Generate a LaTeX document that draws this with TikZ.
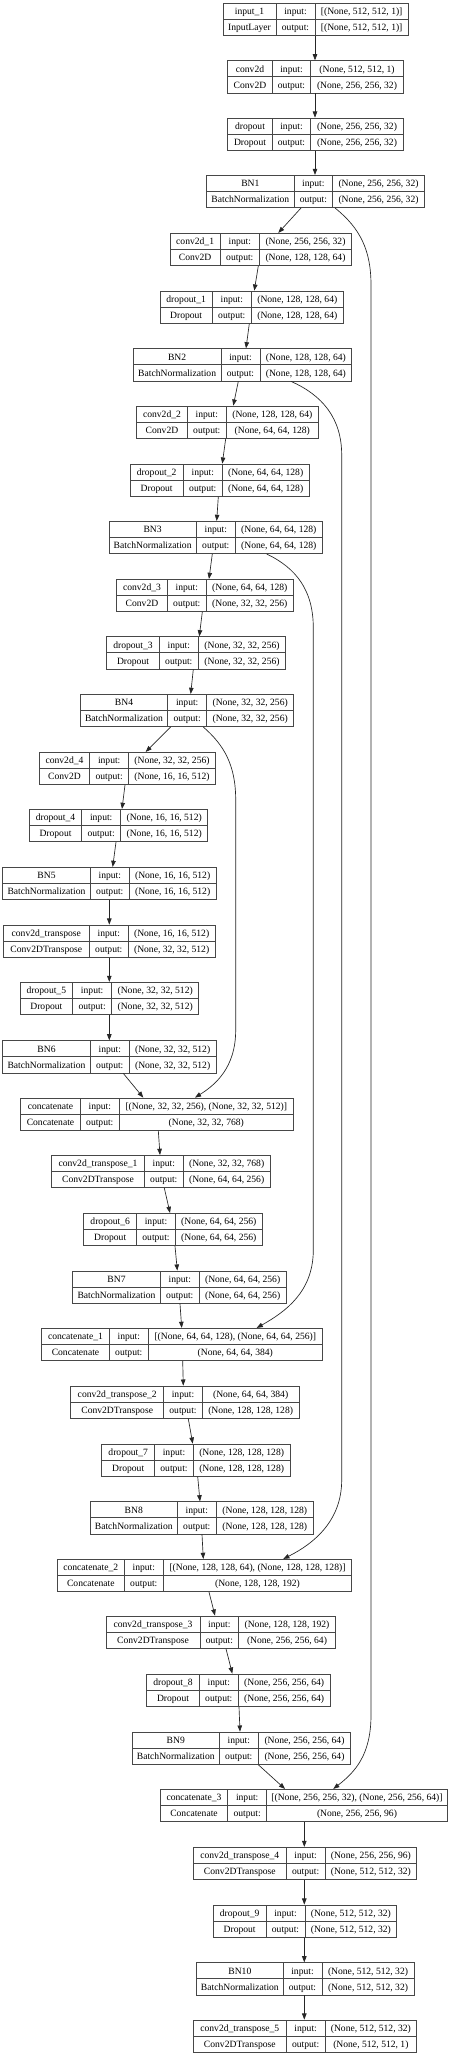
\documentclass[tikz,border=0pt]{standalone}
\usepackage{fontspec}
\setmainfont{Liberation Serif}
\usetikzlibrary{arrows.meta,fit,calc}
\tikzset{
  box/.style={draw=black!72, line width=0.6pt, inner sep=0pt, fill=white},
  cell/.style={draw=black!72, line width=0.6pt},
  txt/.style={inner sep=0pt, anchor=base, font=\fontsize{7.2}{8}\selectfont},
  edge/.style={draw=black!85, line width=0.5pt, -{Triangle[length=4.6pt,width=3.4pt]}},
}
\newcommand\lay[9]{\def\Lname{#1}\def\Lxo{#2}\def\Lxa{#3}\def\Lxb{#4}\def\Lxi{#5}\def\Lyo{#6}\def\Lta{#7}\def\Ltb{#8}\def\Lin{#9}\layfinish}
\newcommand\layfinish[1]{%
  \pgfmathsetmacro\Lyi{\Lyo+32.3}%
  \pgfmathsetmacro\Lym{\Lyo+16.15}%
  \pgfmathsetmacro\Lca{(\Lxo+\Lxa)/2}%
  \pgfmathsetmacro\Lcb{(\Lxa+\Lxb)/2}%
  \pgfmathsetmacro\Lcc{(\Lxb+\Lxi)/2}%
  \pgfmathsetmacro\Lba{\Lyo+11.3}%
  \pgfmathsetmacro\Lbb{\Lyo+27.4}%
  \node[box, fit={(\Lxo,\Lyo)(\Lxi,\Lyi)}] (\Lname) {};
  \draw[cell] (\Lxo,\Lym) -- (\Lxi,\Lym);
  \draw[cell] (\Lxa,\Lyo) -- (\Lxa,\Lyi);
  \draw[cell] (\Lxb,\Lyo) -- (\Lxb,\Lyi);
  \node[txt] (\Lname-n) at (\Lca,\Lba) {\Lta};
  \node[txt] (\Lname-c) at (\Lca,\Lbb) {\Ltb};
  \node[txt] (\Lname-il) at (\Lcb,\Lba) {input:};
  \node[txt] (\Lname-ol) at (\Lcb,\Lbb) {output:};
  \node[txt] (\Lname-i) at (\Lcc,\Lba) {\Lin};
  \node[txt] (\Lname-o) at (\Lcc,\Lbb) {#1};
}
\newcommand\edge[4]{\draw[edge] (#1.south -| #2,0) -- (#3.north -| #4,0);}
\begin{document}
\begin{tikzpicture}[x=0.75pt, y={(0pt,-0.75pt)}]
\useasboundingbox[fill=white] (0,0) rectangle (453,2056);
\lay{in1}{223}{276}{315}{408.3}{3}{input\_1}{InputLayer}{[(None, 512, 512, 1)]}{[(None, 512, 512, 1)]}
\lay{c0}{227.7}{272.3}{310.7}{403.3}{60.7}{conv2d}{Conv2D}{(None, 512, 512, 1)}{(None, 256, 256, 32)}
\lay{d0}{227.7}{272.3}{310.7}{403.3}{118}{dropout}{Dropout}{(None, 256, 256, 32)}{(None, 256, 256, 32)}
\lay{bn1}{206.7}{294}{332.7}{424.3}{175.3}{BN1}{BatchNormalization}{(None, 256, 256, 32)}{(None, 256, 256, 32)}
\lay{c1}{170}{220.3}{259.3}{351.7}{233.3}{conv2d\_1}{Conv2D}{(None, 256, 256, 32)}{(None, 128, 128, 64)}
\lay{d1}{160}{212.3}{251.3}{343.3}{291}{dropout\_1}{Dropout}{(None, 128, 128, 64)}{(None, 128, 128, 64)}
\lay{bn2}{133.3}{221}{260}{351.7}{348.7}{BN2}{BatchNormalization}{(None, 128, 128, 64)}{(None, 128, 128, 64)}
\lay{c2}{136.7}{187.3}{226.3}{318.3}{406}{conv2d\_2}{Conv2D}{(None, 128, 128, 64)}{(None, 64, 64, 128)}
\lay{d2}{130}{183.3}{222.3}{309}{464}{dropout\_2}{Dropout}{(None, 64, 64, 128)}{(None, 64, 64, 128)}
\lay{bn3}{109}{196.3}{235.3}{322.3}{521.3}{BN3}{BatchNormalization}{(None, 64, 64, 128)}{(None, 64, 64, 128)}
\lay{c3}{116.7}{167.3}{206.3}{293.3}{579.3}{conv2d\_3}{Conv2D}{(None, 64, 64, 128)}{(None, 32, 32, 256)}
\lay{d3}{106.7}{159.3}{198.3}{285.7}{636.7}{dropout\_3}{Dropout}{(None, 32, 32, 256)}{(None, 32, 32, 256)}
\lay{bn4}{80.3}{167.7}{206.7}{293.7}{694.3}{BN4}{BatchNormalization}{(None, 32, 32, 256)}{(None, 32, 32, 256)}
\lay{c4}{39.3}{89.7}{128.7}{215.3}{752.3}{conv2d\_4}{Conv2D}{(None, 32, 32, 256)}{(None, 16, 16, 512)}
\lay{d4}{29.3}{81.7}{120.7}{207.7}{809.3}{dropout\_4}{Dropout}{(None, 16, 16, 512)}{(None, 16, 16, 512)}
\lay{bn5}{2.7}{90.3}{129.3}{216}{867.3}{BN5}{BatchNormalization}{(None, 16, 16, 512)}{(None, 16, 16, 512)}
\lay{t0}{3.3}{89.3}{128.3}{215}{925}{conv2d\_transpose}{Conv2DTranspose}{(None, 16, 16, 512)}{(None, 32, 32, 512)}
\lay{d5}{20}{72.7}{111.7}{198.7}{982.3}{dropout\_5}{Dropout}{(None, 32, 32, 512)}{(None, 32, 32, 512)}
\lay{bn6}{2.7}{90.3}{129.3}{216}{1040.7}{BN6}{BatchNormalization}{(None, 32, 32, 512)}{(None, 32, 32, 512)}
\lay{k0}{20.7}{80.3}{119.3}{293.3}{1098}{concatenate}{Concatenate}{[(None, 32, 32, 256), (None, 32, 32, 512)]}{(None, 32, 32, 768)}
\lay{t1}{51.7}{144.3}{183.3}{270}{1155.3}{conv2d\_transpose\_1}{Conv2DTranspose}{(None, 32, 32, 768)}{(None, 64, 64, 256)}
\lay{d6}{83.7}{136.7}{175.3}{262.3}{1213.3}{dropout\_6}{Dropout}{(None, 64, 64, 256)}{(None, 64, 64, 256)}
\lay{bn7}{72.7}{160.3}{199.3}{286}{1271}{BN7}{BatchNormalization}{(None, 64, 64, 256)}{(None, 64, 64, 256)}
\lay{k1}{41.7}{109.3}{148.3}{322.3}{1328.3}{concatenate\_1}{Concatenate}{[(None, 64, 64, 128), (None, 64, 64, 256)]}{(None, 64, 64, 384)}
\lay{t2}{70.7}{163.7}{202.3}{299}{1386}{conv2d\_transpose\_2}{Conv2DTranspose}{(None, 64, 64, 384)}{(None, 128, 128, 128)}
\lay{d7}{101.7}{154.7}{193.3}{290}{1444}{dropout\_7}{Dropout}{(None, 128, 128, 128)}{(None, 128, 128, 128)}
\lay{bn8}{90.3}{177.3}{216.3}{313.3}{1501.7}{BN8}{BatchNormalization}{(None, 128, 128, 128)}{(None, 128, 128, 128)}
\lay{k2}{57.3}{124.3}{163.3}{351.7}{1559.3}{concatenate\_2}{Concatenate}{[(None, 128, 128, 64), (None, 128, 128, 128)]}{(None, 128, 128, 192)}
\lay{t3}{106}{200}{238.7}{335.3}{1616}{conv2d\_transpose\_3}{Conv2DTranspose}{(None, 128, 128, 192)}{(None, 256, 256, 64)}
\lay{d8}{146.7}{199.3}{238.3}{330}{1674}{dropout\_8}{Dropout}{(None, 256, 256, 64)}{(None, 256, 256, 64)}
\lay{bn9}{132.3}{219.3}{258.3}{350.7}{1732}{BN9}{BatchNormalization}{(None, 256, 256, 64)}{(None, 256, 256, 64)}
\lay{k3}{160.3}{227.7}{266.7}{447.3}{1789.3}{concatenate\_3}{Concatenate}{[(None, 256, 256, 32), (None, 256, 256, 64)]}{(None, 256, 256, 96)}
\lay{t4}{193.3}{286.3}{325}{416.7}{1847.3}{conv2d\_transpose\_4}{Conv2DTranspose}{(None, 256, 256, 96)}{(None, 512, 512, 32)}
\lay{d9}{213.3}{266}{305}{396.7}{1905}{dropout\_9}{Dropout}{(None, 512, 512, 32)}{(None, 512, 512, 32)}
\lay{bn10}{196.7}{283}{322}{414}{1962.7}{BN10}{BatchNormalization}{(None, 512, 512, 32)}{(None, 512, 512, 32)}
\lay{t5}{193.3}{286.3}{325}{416.7}{2020}{conv2d\_transpose\_5}{Conv2DTranspose}{(None, 512, 512, 32)}{(None, 512, 512, 1)}
% main chain
\edge{in1}{315}{c0}{315}
\edge{c0}{315}{d0}{315}
\edge{d0}{315}{bn1}{315}
\edge{bn1}{301}{c1}{278.3}
\edge{c1}{258.3}{d1}{254.3}
\edge{d1}{249.3}{bn2}{246}
\edge{bn2}{238.3}{c2}{233.3}
\edge{c2}{225.7}{d2}{222.3}
\edge{d2}{218.3}{bn3}{216.7}
\edge{bn3}{212.3}{c3}{209}
\edge{c3}{202.3}{d3}{199.3}
\edge{d3}{193.3}{bn4}{190.7}
\edge{bn4}{170.7}{c4}{145.7}
\edge{c4}{125}{d4}{122}
\edge{d4}{116}{bn5}{112.7}
\edge{bn5}{109.3}{t0}{109.3}
\edge{t0}{109.3}{d5}{109.3}
\edge{d5}{109.3}{bn6}{109.3}
\edge{bn6}{123.3}{k0}{143.3}
\edge{k0}{158.3}{t1}{160}
\edge{t1}{164.3}{d6}{170}
\edge{d6}{175}{bn7}{177.3}
\edge{bn7}{180}{k1}{181.7}
\edge{k1}{182.7}{t2}{183.3}
\edge{t2}{188.3}{d7}{192.7}
\edge{d7}{197.7}{bn8}{200}
\edge{bn8}{202}{k2}{203.3}
\edge{k2}{209}{t3}{215}
\edge{t3}{226}{d8}{232.3}
\edge{d8}{239}{bn9}{240}
\edge{bn9}{258.3}{k3}{285}
\edge{k3}{304.3}{t4}{304.3}
\edge{t4}{304.3}{d9}{304.3}
\edge{d9}{304.3}{bn10}{304.3}
\edge{bn10}{304.3}{t5}{304.3}
% skip connections
\draw[edge] (bn1.south -| 335,0) .. controls (360,228) and (371,250) .. (371,285)
  -- (371,1715) .. controls (371,1755) and (355,1772) .. (k3.north -| 333.3,0);
\draw[edge] (bn2.south -| 291,0) .. controls (322,395) and (341.7,418) .. (341.7,455)
  -- (341.7,1480) .. controls (341.7,1520) and (315,1543) .. (k2.north -| 283.3,0);
\draw[edge] (bn3.south -| 266.7,0) .. controls (296,568) and (313.3,590) .. (313.3,628)
  -- (313.3,1250) .. controls (313.3,1292) and (285,1312) .. (k1.north -| 256.7,0);
\draw[edge] (bn4.south -| 203.3,0) .. controls (224,745) and (235.7,765) .. (235.7,800)
  -- (235.7,1030) .. controls (235.7,1068) and (215,1085) .. (k0.north -| 195,0);
\end{tikzpicture}
\end{document}
